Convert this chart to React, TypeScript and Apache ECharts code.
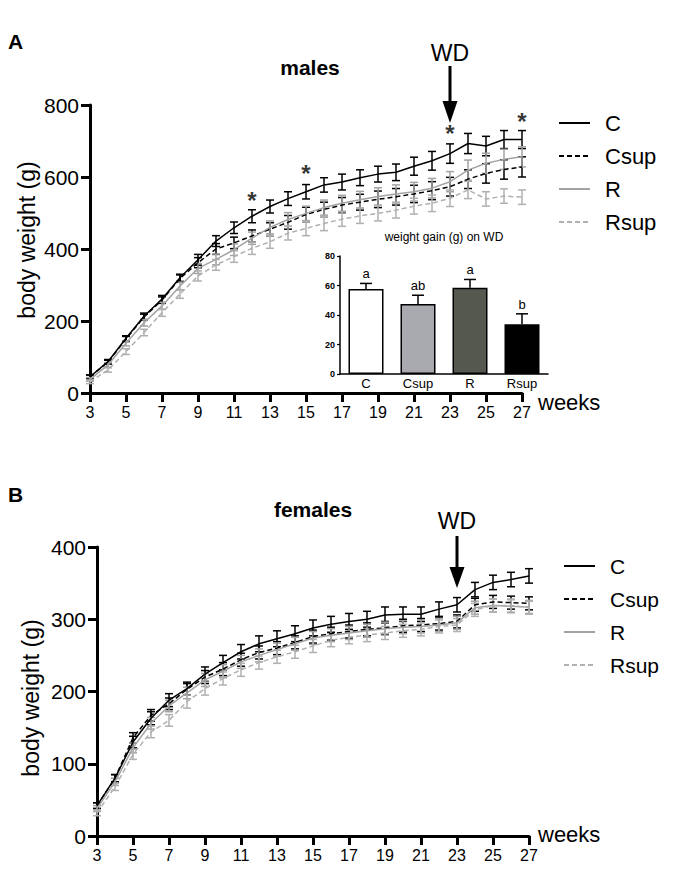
import React, { useEffect, useRef } from "react";
import * as echarts from "echarts";

const FONT = "'Liberation Sans', Arial, Helvetica, sans-serif";

const weeks = [3, 4, 5, 6, 7, 8, 9, 10, 11, 12, 13, 14, 15, 16, 17, 18, 19, 20, 21, 22, 23, 24, 25, 26, 27];
const xTicks = { min: 3, max: 27, interval: 2 };
const wdWeek = 23;

// Males (panel A), grams
const malesC = [45, 87, 152, 213, 261, 320, 370, 422, 459, 491, 518, 540, 559, 578, 586, 598, 608, 613, 630, 645, 665, 693, 686, 704, 704];
const malesCErr = [5, 6, 7, 9, 10, 10, 15, 15, 16, 18, 18, 19, 20, 20, 22, 22, 22, 23, 25, 26, 27, 28, 27, 25, 25];
const malesCsup = [45, 86, 150, 211, 258, 318, 362, 400, 417, 436, 455, 474, 496, 510, 522, 530, 538, 545, 553, 562, 573, 594, 610, 621, 628];
const malesCsupErr = [5, 5, 7, 8, 9, 10, 14, 15, 16, 17, 18, 19, 20, 20, 21, 22, 23, 23, 24, 25, 26, 26, 27, 27, 28];
const malesR = [38, 78, 138, 195, 242, 297, 346, 371, 398, 430, 460, 482, 499, 515, 527, 537, 546, 553, 559, 569, 587, 619, 638, 649, 656];
const malesRErr = [5, 6, 7, 9, 10, 11, 14, 15, 16, 17, 18, 19, 20, 21, 22, 23, 24, 25, 26, 27, 28, 28, 28, 28, 28];
const malesRsup = [31, 64, 115, 168, 223, 275, 325, 356, 379, 402, 420, 444, 457, 471, 483, 492, 499, 508, 519, 527, 541, 564, 539, 547, 544];
const malesRsupErr = [5, 6, 8, 9, 10, 12, 14, 15, 16, 17, 18, 19, 20, 20, 20, 21, 21, 22, 22, 23, 23, 24, 20, 20, 20];
const malesYTicks = { min: 0, max: 800, interval: 200 };
const starWeeks = [12, 15, 23, 27];
const starValues = [536, 611, 722, 753];

// Females (panel B), grams
const femalesC = [42, 80, 130, 163, 188, 204, 224, 240, 255, 266, 273, 280, 288, 293, 297, 300, 306, 307, 307, 314, 320, 341, 351, 355, 360];
const femalesCErr = [4, 5, 8, 9, 9, 9, 10, 10, 10, 11, 11, 11, 11, 11, 11, 11, 11, 10, 10, 10, 10, 10, 10, 10, 10];
const femalesCsup = [42, 80, 136, 167, 183, 203, 220, 231, 244, 254, 260, 268, 276, 280, 283, 286, 288, 291, 292, 294, 297, 320, 324, 323, 322];
const femalesCsupErr = [4, 5, 7, 8, 8, 8, 9, 9, 9, 9, 9, 9, 9, 9, 9, 9, 9, 9, 9, 9, 9, 9, 9, 9, 9];
const femalesR = [38, 75, 122, 156, 180, 198, 216, 228, 241, 250, 258, 266, 274, 278, 281, 284, 287, 289, 290, 292, 295, 316, 319, 318, 317];
const femalesRErr = [4, 5, 7, 8, 8, 8, 9, 9, 9, 9, 9, 9, 9, 9, 9, 9, 9, 9, 9, 9, 9, 9, 9, 9, 9];
const femalesRsup = [32, 68, 113, 144, 160, 186, 204, 218, 230, 240, 248, 255, 263, 271, 275, 278, 281, 284, 286, 290, 292, 313, 319, 319, 316];
const femalesRsupErr = [4, 5, 7, 8, 8, 9, 9, 9, 9, 9, 9, 9, 9, 9, 9, 9, 9, 9, 9, 9, 9, 9, 9, 9, 9];
const femalesYTicks = { min: 0, max: 400, interval: 100 };

// Inset: weight gain on WD
const gainCats = ["C", "Csup", "R", "Rsup"];
const gainValues = [57.7, 47.4, 58.5, 33.8];
const gainErr = [3.7, 6.0, 5.6, 7.0];
const gainLetters = ["a", "ab", "a", "b"];
const gainYTicks = { min: 0, max: 80, interval: 20 };

const groupNames = ["C", "Csup", "R", "Rsup"];
const groupStyle: Record<string, { color: string; dashed: boolean }> = {
  C: { color: "#000000", dashed: false },
  Csup: { color: "#000000", dashed: true },
  R: { color: "#a3a3a3", dashed: false },
  Rsup: { color: "#b0b0b0", dashed: true },
};
const barColors = ["#ffffff", "#a9a9b0", "#55584f", "#000000"];

const errRender = (color: string, cap: number) => (params: any, api: any) => {
  const x = api.value(0);
  const top = api.coord([x, api.value(2)]);
  const bot = api.coord([x, api.value(1)]);
  const st = { stroke: color, lineWidth: 1.5, fill: "none" };
  return {
    type: "group",
    children: [
      { type: "line", shape: { x1: top[0], y1: top[1], x2: bot[0], y2: bot[1] }, style: st },
      { type: "line", shape: { x1: top[0] - cap, y1: top[1], x2: top[0] + cap, y2: top[1] }, style: st },
      { type: "line", shape: { x1: bot[0] - cap, y1: bot[1], x2: bot[0] + cap, y2: bot[1] }, style: st },
    ],
  };
};

function panelSeries(gridIdx: number, vals: number[][], errs: number[][]) {
  const out: any[] = [];
  groupNames.forEach((name, gi) => {
    const st = groupStyle[name];
    out.push({
      type: "custom",
      name: "err-" + name + "-" + gridIdx,
      xAxisIndex: gridIdx,
      yAxisIndex: gridIdx,
      renderItem: errRender(st.color, 4),
      encode: { x: 0, y: [1, 2] },
      data: weeks.map((w, i) => [w, vals[gi][i] - errs[gi][i], vals[gi][i] + errs[gi][i]]),
      z: 3,
      silent: true,
    });
    out.push({
      type: "line",
      name,
      xAxisIndex: gridIdx,
      yAxisIndex: gridIdx,
      data: weeks.map((w, i) => [w, vals[gi][i]]),
      symbol: "none",
      lineStyle: { color: st.color, width: 1.5, type: st.dashed ? [5, 3] : "solid" },
      itemStyle: { color: st.color },
      z: 4,
      silent: true,
    });
  });
  return out;
}

function lineXAxis(gridIndex: number) {
  return {
    gridIndex,
    type: "value",
    ...xTicks,
    axisLine: { show: true, onZero: false, lineStyle: { color: "#000", width: 3 } },
    axisTick: { show: true, length: 9, lineStyle: { color: "#000", width: 3 } },
    axisLabel: { color: "#000", fontSize: 16, margin: 11, fontFamily: FONT },
    splitLine: { show: false },
  };
}

function lineYAxis(gridIndex: number, ticks: any) {
  return {
    gridIndex,
    type: "value",
    ...ticks,
    axisLine: { show: true, lineStyle: { color: "#000", width: 3 } },
    axisTick: { show: true, length: 9, lineStyle: { color: "#000", width: 3 } },
    axisLabel: { color: "#000", fontSize: 21, margin: 11, fontFamily: FONT },
    splitLine: { show: false },
  };
}

function legendFor(left: number, top: number, fontSize: number) {
  return {
    data: groupNames,
    orient: "vertical",
    left,
    top,
    itemWidth: 31,
    itemHeight: 14,
    itemGap: 11,
    selectedMode: false,
    itemStyle: { opacity: 0 },
    textStyle: { color: "#000", fontSize, fontFamily: FONT, lineHeight: 22, padding: [0, 0, 0, 10] },
  };
}

export default function App() {
  const ref = useRef<HTMLDivElement>(null);
  useEffect(() => {
    document.body.style.margin = "0";
    if (!ref.current) return;
    const chart = echarts.init(ref.current, undefined, { renderer: "svg", width: 683, height: 888 });
    const option: any = {
      animation: false,
      backgroundColor: "#ffffff",
      textStyle: { fontFamily: FONT },
      grid: [
        { left: 90, top: 105, width: 432, height: 288 },
        { left: 97, top: 547, width: 432, height: 289 },
        { left: 340, top: 256, width: 208, height: 118 },
      ],
      xAxis: [
        lineXAxis(0),
        lineXAxis(1),
        {
          gridIndex: 2,
          type: "category",
          data: gainCats,
          axisLine: { show: true, lineStyle: { color: "#000", width: 1.5 } },
          axisTick: { show: false },
          axisLabel: { color: "#000", fontSize: 13, margin: 3, fontFamily: FONT },
        },
      ],
      yAxis: [
        lineYAxis(0, malesYTicks),
        lineYAxis(1, femalesYTicks),
        {
          gridIndex: 2,
          type: "value",
          ...gainYTicks,
          axisLine: { show: true, lineStyle: { color: "#000", width: 1.5 } },
          axisTick: { show: true, length: 3, lineStyle: { color: "#000", width: 1.2 } },
          axisLabel: { color: "#000", fontSize: 9, fontWeight: "bold", margin: 5, fontFamily: FONT },
          splitLine: { show: false },
        },
      ],
      legend: [legendFor(553, 107, 22), legendFor(558, 550, 21)],
      series: [
        ...panelSeries(0, [malesC, malesCsup, malesR, malesRsup], [malesCErr, malesCsupErr, malesRErr, malesRsupErr]),
        ...panelSeries(1, [femalesC, femalesCsup, femalesR, femalesRsup], [femalesCErr, femalesCsupErr, femalesRErr, femalesRsupErr]),
        {
          type: "scatter",
          name: "stars",
          xAxisIndex: 0,
          yAxisIndex: 0,
          data: starWeeks.map((w, i) => [w, starValues[i]]),
          symbolSize: 1,
          itemStyle: { color: "rgba(0,0,0,0)" },
          label: { show: true, formatter: "*", position: "inside", color: "#000", fontSize: 24, fontWeight: "bold", fontFamily: FONT },
          silent: true,
          z: 6,
        },
        {
          type: "bar",
          name: "gain",
          xAxisIndex: 2,
          yAxisIndex: 2,
          barWidth: 35,
          data: gainValues.map((v, i) => ({ value: v, itemStyle: { color: barColors[i] } })),
          itemStyle: { borderColor: "#000", borderWidth: 1.5 },
          silent: true,
        },
        {
          type: "custom",
          name: "gainErr",
          xAxisIndex: 2,
          yAxisIndex: 2,
          encode: { x: 0, y: [1, 2] },
          data: gainValues.map((v, i) => [i, v, v + gainErr[i]]),
          renderItem: (params: any, api: any) => {
            const i = api.value(0);
            const base = api.coord([i, api.value(1)]);
            const top = api.coord([i, api.value(2)]);
            const st = { stroke: "#000", lineWidth: 1.5, fill: "none" };
            return {
              type: "group",
              children: [
                { type: "line", shape: { x1: base[0], y1: base[1], x2: top[0], y2: top[1] }, style: st },
                { type: "line", shape: { x1: top[0] - 6, y1: top[1], x2: top[0] + 6, y2: top[1] }, style: st },
                {
                  type: "text",
                  x: top[0],
                  y: top[1] - 3,
                  style: {
                    text: gainLetters[params.dataIndex],
                    fill: "#000",
                    fontSize: 13,
                    fontFamily: FONT,
                    align: "center",
                    verticalAlign: "bottom",
                  },
                },
              ],
            };
          },
          z: 5,
          silent: true,
        },
      ],
    };
    chart.setOption(option);

    const ax = chart.convertToPixel({ gridIndex: 0 } as any, [wdWeek, 0])[0];
    const bx = chart.convertToPixel({ gridIndex: 1 } as any, [wdWeek, 0])[0];
    const txt = (text: string, x: number, y: number, size: number, bold = false, align = "center") => ({
      type: "text",
      x,
      y,
      style: { text, fill: "#000", fontSize: size, fontWeight: bold ? "bold" : "normal", fontFamily: FONT, align, verticalAlign: "middle" },
      silent: true,
    });
    const arrow = (x: number, y0: number, yHead: number, yTip: number) => [
      { type: "line", shape: { x1: x, y1: y0, x2: x, y2: yHead + 2 }, style: { stroke: "#000", lineWidth: 3 }, silent: true },
      { type: "polygon", shape: { points: [[x - 7.5, yHead], [x + 7.5, yHead], [x, yTip]] }, style: { fill: "#000" }, silent: true },
    ];
    chart.setOption({
      graphic: [
        txt("A", 8, 41, 21, true, "left"),
        txt("males", 310, 67, 21, true),
        txt("WD", ax, 53, 23),
        ...arrow(ax, 66, 101, 123),
        { ...txt("body weight (g)", 27, 240, 23), rotation: Math.PI / 2 },
        txt("weeks", 538, 402, 22, false, "left"),
        txt("weight gain (g) on WD", 444, 237, 12),
        txt("B", 8, 494, 21, true, "left"),
        txt("females", 313, 509, 21, true),
        txt("WD", bx, 521, 23),
        ...arrow(bx, 536, 567, 588),
        { ...txt("body weight (g)", 31, 698, 23), rotation: Math.PI / 2 },
        txt("weeks", 538, 834, 22, false, "left"),
      ],
    });
    return () => chart.dispose();
  }, []);
  return <div ref={ref} style={{ width: 683, height: 888 }} />;
}
